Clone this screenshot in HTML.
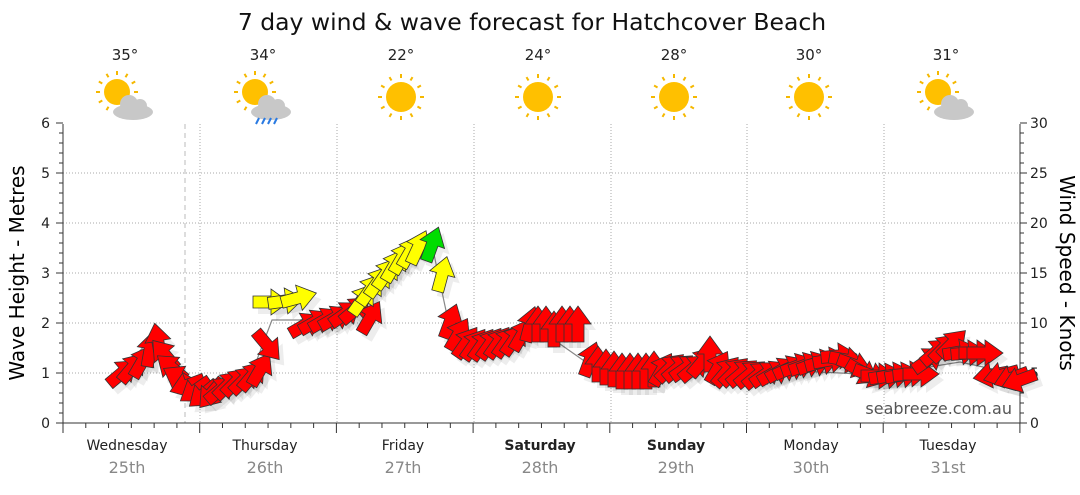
<!DOCTYPE html>
<html><head><meta charset="utf-8"><style>
body{margin:0;background:#fff;width:1080px;height:490px;overflow:hidden}
svg{font-family:"DejaVu Sans","Liberation Sans",sans-serif}
</style></head><body>
<svg id="s" width="1080" height="490" viewBox="0 0 1080 490" xmlns="http://www.w3.org/2000/svg">
<text x="532" y="30" font-size="23.5" text-anchor="middle" fill="#111">7 day wind &amp; wave forecast for Hatchcover Beach</text>
<g id="grid" stroke="#aaa" stroke-dasharray="1,2" stroke-width="1"></g>
<line x1="185" y1="124" x2="185" y2="423" stroke="#bbb" stroke-dasharray="5,4"/>
<g id="axes" stroke="#333" stroke-width="1"></g>
<g id="lbl" font-size="14" fill="#222"></g>
<text x="24" y="273" font-size="20" text-anchor="middle" transform="rotate(-90 24 273)">Wave Height - Metres</text>
<text x="1060" y="273" font-size="20" text-anchor="middle" transform="rotate(90 1060 273)">Wind Speed - Knots</text>
<text x="1012" y="414" font-size="16" text-anchor="end" fill="#555">seabreeze.com.au</text>
<polyline points="120,372 150,340 170,372 210,392 250,378 272,320 300,320 360,300 420,250 432,245 448,320 480,340 540,330 590,365 700,365 780,370 880,375 960,362 1020,375" fill="none" stroke="#888" stroke-width="1.2"/>
<g id="arr" stroke="#333" stroke-width="0.8"></g>
<g id="wx"></g>
</svg>
<script>
const NS="http://www.w3.org/2000/svg";
function el(p,t,a,txt){const e=document.createElementNS(NS,t);for(const k in a)e.setAttribute(k,a[k]);if(txt!==undefined)e.textContent=txt;document.getElementById(p).appendChild(e);return e;}
for(let i=1;i<6;i++){const y=423-i*50;el('grid','line',{x1:63,x2:1020,y1:y,y2:y});}
const dx=[200,337,474,611,747,884];
dx.forEach(x=>el('grid','line',{x1:x,x2:x,y1:124,y2:423}));
el('axes','line',{x1:63,x2:63,y1:124,y2:423});
el('axes','line',{x1:1020,x2:1020,y1:124,y2:423});
el('axes','line',{x1:63,x2:1020,y1:423,y2:423});
for(let i=0;i<=30;i++){const y=423-i*10;const L=(i%5==0)?7:4;
 el('axes','line',{x1:1020,x2:1020+L,y1:y,y2:y});
 if(i%5==0){el('lbl','text',{x:1030,y:y+5},String(i));}
 el('axes','line',{x1:63-L,x2:63,y1:y,y2:y});
 if(i%5==0){el('lbl','text',{x:50,y:y+5,'text-anchor':'end'},String(i/5));}
}
for(let x=63;x<=1020;x+=136.7/6){const big=Math.abs(((x-63)%136.7))<1||Math.abs(((x-63)%136.7)-136.7)<1;el('axes','line',{x1:x,x2:x,y1:423,y2:big?433:428});}
const days=[["Wednesday","25th",127],["Thursday","26th",265],["Friday","27th",403],["Saturday","28th",540,1],["Sunday","29th",676,1],["Monday","30th",811],["Tuesday","31st",948]];
days.forEach(d=>{el('lbl','text',{x:d[2],y:450,'text-anchor':'middle','font-weight':d[3]?'bold':'normal'},d[0]);
 el('lbl','text',{x:d[2],y:473,'text-anchor':'middle',fill:'#888','font-size':16},d[1]);});
const temps=["35°","34°","22°","24°","28°","30°","31°"];const types=[1,2,0,0,0,0,1];
days.forEach((d,i)=>{const cx=d[2]-2;el('wx','text',{x:cx,y:60,'text-anchor':'middle','font-size':15,fill:'#222'},temps[i]);
 const sx=types[i]?cx-8:cx,sy=types[i]?92:97,r=types[i]?13:15;
 for(let k=0;k<12;k++){const a=k*Math.PI/6;el('wx','line',{x1:sx+Math.cos(a)*(r+4),y1:sy+Math.sin(a)*(r+4),x2:sx+Math.cos(a)*(r+8),y2:sy+Math.sin(a)*(r+8),stroke:'#f5b800','stroke-width':2});}
 el('wx','circle',{cx:sx,cy:sy,r:r,fill:'#ffc000'});
 if(types[i]){const g='#c8c8c8';el('wx','ellipse',{cx:cx+8,cy:112,rx:20,ry:8,fill:g});el('wx','circle',{cx:cx+4,cy:104,r:9,fill:g});el('wx','circle',{cx:cx+15,cy:106,r:7,fill:g});
  if(types[i]==2){for(let k=0;k<4;k++)el('wx','line',{x1:cx-4+k*6,y1:118,x2:cx-7+k*6,y2:124,stroke:'#2a7ae2','stroke-width':2});}}
});
const R='#ff0000',Y='#ffff00',G='#00dd00';
const K=[
[122,373,-40,R],[132,368,-50,R],[142,362,-60,R],[150,350,-80,R],[158,342,-100,R],[165,355,-130,R],[172,368,-140,R],[180,378,-150,R],[188,385,160,R],[196,390,145,R],[204,394,140,R],[212,393,130,R],[220,390,-40,R],[228,385,-45,R],[236,382,-45,R],[244,380,-45,R],[252,376,-50,R],[260,370,-60,R],[267,345,50,R],
[270,302,0,Y],[285,301,-8,Y],[298,298,-15,Y],
[305,325,-30,R],[315,322,-30,R],[325,320,-30,R],[335,318,-30,R],[345,314,-35,R],[355,310,-40,R],[370,318,-60,R],
[362,300,-55,Y],[370,290,-55,Y],[378,282,-55,Y],[386,274,-55,Y],[394,266,-60,Y],[402,258,-60,Y],[410,252,-60,Y],[418,248,-65,Y],[432,245,-70,G],[442,275,-75,Y],
[450,322,-70,R],[458,335,-60,R],[466,343,-55,R],[474,345,-55,R],[482,345,-55,R],[490,344,-55,R],[498,343,-55,R],[506,342,-55,R],[514,340,-55,R],[522,335,-60,R],[530,325,-75,R],[538,325,-90,R],[546,325,-90,R],[554,330,-90,R],[562,325,-90,R],[570,325,-90,R],[578,325,-90,R],
[590,360,-70,R],[598,365,-90,R],[606,368,-90,R],[614,370,-90,R],[622,372,-90,R],[630,372,-90,R],[638,372,-90,R],[646,372,-90,R],[654,370,-90,R],[662,370,-60,R],[670,368,-45,R],[678,368,-40,R],[686,368,-35,R],[694,368,-40,R],[702,362,-50,R],[710,355,-90,R],
[718,368,-60,R],[726,372,-50,R],[734,372,-45,R],[742,373,-40,R],[750,374,-40,R],[758,375,-40,R],[766,374,-35,R],[774,373,-30,R],[782,370,-30,R],[790,368,-25,R],[798,366,-20,R],[806,365,-20,R],[814,364,-20,R],[822,362,-15,R],[830,360,-10,R],[838,356,-5,R],[846,360,10,R],[854,365,20,R],[862,372,30,R],[870,375,20,R],[878,376,0,R],[886,376,-10,R],[894,375,-10,R],[902,375,-10,R],[910,374,-5,R],[920,374,0,R],[928,360,-35,R],[936,352,-40,R],[944,348,-45,R],[952,344,-45,R],[960,352,-10,R],[968,353,-5,R],[976,353,0,R],[984,353,0,R],[992,375,170,R],[1002,375,165,R],[1012,378,160,R],[1020,380,160,R]];
const shape="-17,-6 1,-6 1,-13 19,0 1,13 1,6 -17,6";
K.forEach(a=>{el('arr','polygon',{points:shape,fill:'#000','fill-opacity':0.07,stroke:'none',transform:`translate(${a[0]+5},${a[1]+6}) rotate(${a[2]})`});});
K.forEach(a=>{el('arr','polygon',{points:shape,fill:a[3],transform:`translate(${a[0]},${a[1]}) rotate(${a[2]})`});});
</script>
</body></html>
